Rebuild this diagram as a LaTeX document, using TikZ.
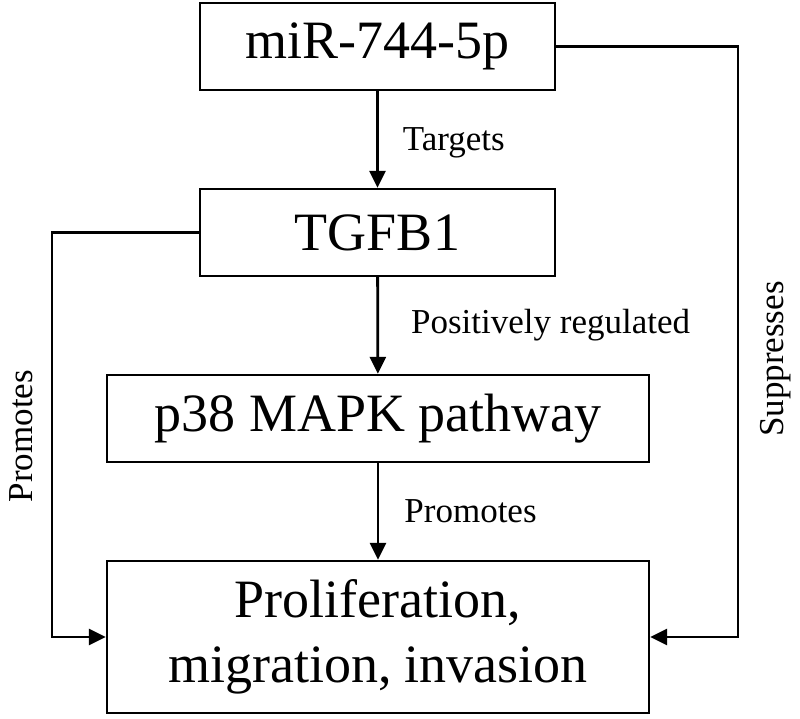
\documentclass[tikz,border=0pt]{standalone}
\usepackage{fontspec}
\setmainfont{Liberation Serif}
\usetikzlibrary{arrows.meta}

\begin{document}
\begin{tikzpicture}[
    x=1pt, y=1pt,
    >={Triangle[length=17pt,width=16pt]},
    line width=2.8pt,
    box/.style={
        draw,
        line width=2.3pt,
        minimum width=355pt,
        minimum height=87pt,
        inner sep=0pt,
        align=center,
        font=\fontsize{54}{65}\selectfont
    },
    widebox/.style={
        box,
        minimum width=542pt
    },
    lbl/.style={
        inner sep=0pt,
        font=\fontsize{35}{40}\selectfont
    }
]

\useasboundingbox (0,0) rectangle (800,-719);

\node[box] (mir) at (377.5,-46.5) {miR-744-5p};
\node[box] (tgfb) at (377.5,-232.5) {TGFB1};
\node[widebox] (p38) at (378,-418.5) {p38 MAPK pathway};
\node[widebox, minimum height=152pt] (outcome) at (378,-637) {Proliferation,\\migration, invasion};

\coordinate (lturn) at (52,-232.5);
\coordinate (rturn) at (738,-46.5);

\path[->]
    (mir) edge node[lbl, right=24pt, yshift=-3pt] {Targets} (tgfb)
    (tgfb) edge node[lbl, right=32pt] {Positively regulated} (p38)
    (p38) edge node[lbl, right=25pt] {Promotes} (outcome);

\draw[->] (tgfb.west) -- (lturn) |- (outcome.west);
\draw[->] (mir.east) -- (rturn) |- (outcome.east);

\node[lbl, rotate=90] (promlbl) at (21,-436) {Promotes};
\node[lbl, rotate=90] (supplbl) at (776,-359) {Suppresses};

\end{tikzpicture}
\end{document}
